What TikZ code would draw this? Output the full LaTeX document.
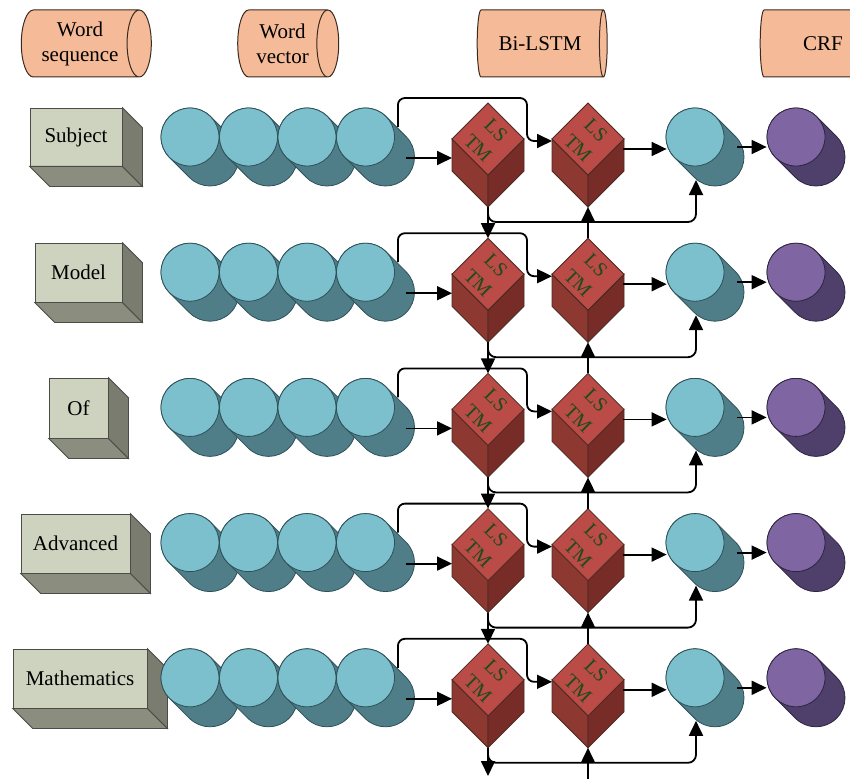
\documentclass[tikz,border=0pt]{standalone}
\usepackage{fontspec}
\setmainfont{Liberation Serif}
\usetikzlibrary{shapes.geometric,arrows.meta,calc}

\definecolor{hdr}{HTML}{F5BB98}
\definecolor{hdredge}{HTML}{3A2A20}
\definecolor{boxfront}{HTML}{CDD3BE}
\definecolor{boxbot}{HTML}{8B8E7F}
\definecolor{boxside}{HTML}{797C6F}
\definecolor{boxedge}{HTML}{4A4C45}
\definecolor{tealF}{HTML}{7CC0CE}
\definecolor{tealS}{HTML}{4F7E88}
\definecolor{tealE}{HTML}{2E5058}
\definecolor{purF}{HTML}{7F66A3}
\definecolor{purS}{HTML}{4E3F6B}
\definecolor{purE}{HTML}{2E2540}
\definecolor{cubeT}{HTML}{BA4B46}
\definecolor{cubeL}{HTML}{8E3832}
\definecolor{cubeR}{HTML}{772C27}
\definecolor{cubeE}{HTML}{4A2A22}
\definecolor{lstmtxt}{HTML}{1F4A1C}

% back part of a tilted cylinder (front centre #1,#2)
\newcommand\tubeback[4]{%
  \draw[draw=#4, line width=0.8pt, fill=#3] ($(#1,#2)+(-45:29)$) -- ++(20,20)
    arc[start angle=-45,end angle=135,radius=29] -- ++(-20,-20)
    arc[start angle=135,end angle=315,radius=29] -- cycle;}

% LSTM cube around named coordinate #1 (centre of top face)
\newcommand\lstmcube[1]{%
  \draw[draw=cubeE, line width=0.8pt, fill=cubeL] ($(#1)+(-36,0)$) -- ($(#1)+(0,36)$) -- ($(#1)+(0,68)$) -- ($(#1)+(-36,32)$) -- cycle;
  \draw[draw=cubeE, line width=0.8pt, fill=cubeR] ($(#1)+(36,0)$) -- ($(#1)+(0,36)$) -- ($(#1)+(0,68)$) -- ($(#1)+(36,32)$) -- cycle;
  \draw[draw=cubeE, line width=0.8pt, fill=cubeT] ($(#1)+(0,-36)$) -- ($(#1)+(36,0)$) -- ($(#1)+(0,36)$) -- ($(#1)+(-36,0)$) -- cycle;
  \node[lstmlbl] at ($(#1)+(8,-9)$) {LS};
  \node[lstmlbl] at ($(#1)+(-10,9)$) {TM};}

% 3-D word box sides
\newcommand\boxsides[1]{%
  \draw[draw=boxedge, line width=0.8pt, fill=boxbot] (#1.south west) -- (#1.south east) -- ($(#1.south east)+(20,20)$) -- ($(#1.south west)+(20,20)$) -- cycle;
  \draw[draw=boxedge, line width=0.8pt, fill=boxside] (#1.north east) -- ($(#1.north east)+(20,20)$) -- ($(#1.south east)+(20,20)$) -- (#1.south east) -- cycle;}

\begin{document}
\begin{tikzpicture}[x=1pt,y=-1pt,
  txt/.style={font=\fontsize{21}{25}\selectfont, text=black},
  hdrcyl/.style={cylinder, draw=hdredge, fill=hdr, line width=1pt, shape aspect=0.55,
     minimum height=130pt, minimum width=67pt, align=center, inner sep=0pt, txt},
  wordbox/.style={draw=boxedge, fill=boxfront, line width=0.8pt, inner sep=0pt, txt},
  disc/.style={circle, minimum size=58pt, inner sep=0pt, line width=0.8pt},
  lstmlbl/.style={rotate=-45, text=lstmtxt, font=\fontsize{20}{22}\selectfont, inner sep=0pt},
  conn/.style={line width=1.8pt, black},
  arr/.style={conn, -{Triangle[length=15pt,width=14pt]}},
]
\useasboundingbox (0,0) rectangle (850,778);
\clip (0,0) rectangle (850,778);

% headers
\node[hdrcyl] (h1) at (80,43.5) {Word\\sequence};
\node[hdrcyl, minimum height=101pt] (h2) at (282.5,43.5) {Word\\vector};
\node[hdrcyl] (h3) at (540,43.5) {Bi-LSTM};
\node[hdrcyl] (h4) at (823,43.5) {CRF};

% word boxes
\node[wordbox, minimum width=92pt, minimum height=58pt] (w1) at (76,137) {Subject};
\node[wordbox, minimum width=87pt, minimum height=59pt] (w2) at (78.5,272.5) {Model};
\node[wordbox, minimum width=59pt, minimum height=60pt] (w3) at (78.5,408) {Of};
\node[wordbox, minimum width=109pt, minimum height=59pt] (w4) at (75.5,543.5) {Advanced};
\node[wordbox, minimum width=134pt, minimum height=59pt] (w5) at (80,678.5) {Mathematics};
\foreach \i in {1,...,5}{\boxsides{w\i}}

% rows
\foreach \i in {1,...,5}{
  \pgfmathsetmacro\y{137+135.2*(\i-1)}
  \foreach \k in {0,...,3}{
    \tubeback{190+58.5*\k}{\y}{tealS}{tealE}
    \node[disc, draw=tealE, fill=tealF] (v\i-\k) at (190+58.5*\k,\y) {};
  }
  \tubeback{695}{\y}{tealS}{tealE}
  \node[disc, draw=tealE, fill=tealF] (o\i) at (695,\y) {};
  \tubeback{796}{\y}{purS}{purE}
  \node[disc, draw=purE, fill=purF] (r\i) at (796,\y) {};
  \coordinate (c1-\i) at (488,\y+2);
  \coordinate (c2-\i) at (588,\y+2);
  \lstmcube{c1-\i}
  \lstmcube{c2-\i}
  % connectors within the row
  \draw[arr] ($(v\i-3.east)+(11,21)$) -- ($(c1-\i)+(-36,19)$);
  \draw[arr, rounded corners=7] ($(v\i-3.east)+(3,-10)$) -- ($(v\i-3.east)+(3,-39)$)
      -- ($(c2-\i)+(-61,-41)$) -- ($(c2-\i)+(-61,2)$) -- ($(c2-\i)+(-36,2)$);
  \draw[arr] ($(c2-\i)+(35,10)$) -- ($(o\i.west)+(1,12)$);
  \draw[arr] ($(o\i)+(42,10)$) -- ($(r\i.west)+(0,10)$);
  \draw[arr, rounded corners=8] ($(c1-\i)+(0,68)$) -- ($(c1-\i)+(0,83)$) -| ($(o\i)+(1,43)$);
}

% connections between rows
\foreach \i [evaluate=\i as \j using int(\i+1)] in {1,...,4}{
  \draw[arr] ($(c1-\i)+(0,68)$) -- ($(c1-\j)+(0,-36)$);
  \draw[arr] ($(c2-\j)+(0,-36)$) -- ($(c2-\i)+(0,68)$);
}
\coordinate (out1) at (488,776);
\coordinate (in2) at (588,790);
\draw[arr] ($(c1-5)+(0,68)$) -- (out1);
\draw[arr] (in2) -- ($(c2-5)+(0,68)$);
\end{tikzpicture}
\end{document}
